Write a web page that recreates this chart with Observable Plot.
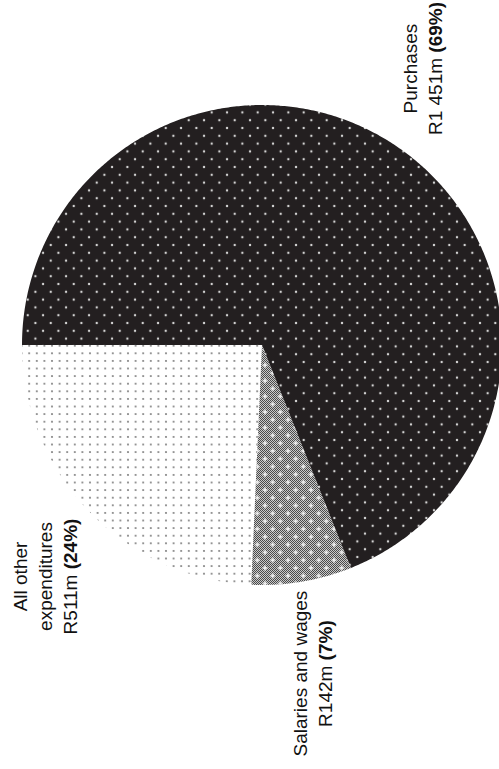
<!DOCTYPE html>
<html>
<head>
<meta charset="utf-8">
<script src="https://cdn.jsdelivr.net/npm/d3@7"></script>
<script src="https://cdn.jsdelivr.net/npm/@observablehq/plot@0.6"></script>
<style>
  html, body { margin: 0; padding: 0; background: #fff; }
  #chart svg { display: block; }
</style>
</head>
<body>
<div id="chart"></div>
<script>
// ---- data ----
const categories = ["All other expenditures", "Salaries and wages", "Purchases"];
const values = [511, 142, 1451];                 // R million
const nameLabels = ["All other\nexpenditures", "Salaries and wages", "Purchases"];
const amountLabels = ["R511m", "R142m", "R1 451m"];
const percentLabels = ["(24%)", "(7%)", "(69%)"];

// ---- layout ----
const W = 499, H = 769;
const CX = 262, CY = 345, R = 240;              // pie centre / radius in px
// label anchors in pie units (radius = 1), centre of each text block
const labelAnchors = [[-0.910, -0.9625], [0.204, -1.367], [0.6625, 1.154]];
const patternIds = ["pat-other", "pat-sal", "pat-pur"];

// ---- wedges via d3.pie, drawn as Plot areas in data space ----
const arcs = d3.pie().sort(null)(values);
const wedgePts = arcs.flatMap((a, i) => {
  const n = Math.max(2, Math.ceil((a.endAngle - a.startAngle) / (Math.PI / 360)));
  return d3.range(n + 1).map(k => {
    const t = Math.PI + a.startAngle + (a.endAngle - a.startAngle) * k / n;
    return {cat: categories[i], x: Math.cos(t), y: Math.sin(t)};
  });
});

const labels = categories.map((c, i) => ({
  cat: c,
  x: labelAnchors[i][0],
  y: labelAnchors[i][1],
  text: `${nameLabels[i]}\n${amountLabels[i]} ${percentLabels[i]}`
}));

const chart = Plot.plot({
  width: W,
  height: H,
  margin: 0,
  x: {domain: [-CX / R, (W - CX) / R], range: [0, W], axis: null},
  y: {domain: [(CY - H) / R, CY / R], range: [H, 0], axis: null},
  color: {domain: categories, range: patternIds.map(id => `url(#${id})`)},
  style: {background: "#fff", fontFamily: "'Liberation Sans', Arial, Helvetica, sans-serif"},
  marks: [
    Plot.area(wedgePts, {x1: "x", y1: "y", x2: 0, y2: 0, z: "cat", fill: "cat"}),
    Plot.area(wedgePts.filter(d => d.cat === categories[1]),
      {x1: "x", y1: "y", x2: 0, y2: 0, fill: "url(#pat-cross)"}),
    Plot.text(labels, {
      x: "x", y: "y", text: "text", rotate: -90,
      fontSize: 19, lineHeight: 25 / 19, textAnchor: "middle", lineAnchor: "middle",
      fill: "#111"
    })
  ]
});

// ---- fill patterns ----
const defs = d3.select(chart).append("defs");
// Purchases: dark with light dots on a diagonal grid
{
  const w = 15.33, h = 15.6;
  const p = defs.append("pattern").attr("id", "pat-pur").attr("patternUnits", "userSpaceOnUse")
    .attr("width", w).attr("height", h).attr("x", 8.58).attr("y", 14.9);
  p.append("rect").attr("width", w).attr("height", h).attr("fill", "#231f20");
  [[w / 4, h / 4], [3 * w / 4, 3 * h / 4]].forEach(([cx, cy]) =>
    p.append("circle").attr("cx", cx).attr("cy", cy).attr("r", 1.2).attr("fill", "#d4d4d4"));
}
// All other: white with grey dots on a square grid
{
  const s = 7.6;
  const p = defs.append("pattern").attr("id", "pat-other").attr("patternUnits", "userSpaceOnUse")
    .attr("width", s).attr("height", s).attr("x", 2.6).attr("y", 7.5);
  p.append("rect").attr("width", s).attr("height", s).attr("fill", "#fff");
  p.append("circle").attr("cx", s / 2).attr("cy", s / 2).attr("r", 1.05).attr("fill", "#7a7a7a");
}
// Salaries: fine checkerboard grey
{
  const p = defs.append("pattern").attr("id", "pat-sal").attr("patternUnits", "userSpaceOnUse")
    .attr("width", 2).attr("height", 2);
  p.append("rect").attr("width", 2).attr("height", 2).attr("fill", "#c9c9c9");
  p.append("rect").attr("x", 0).attr("y", 0).attr("width", 1).attr("height", 1).attr("fill", "#4a4a4a");
  p.append("rect").attr("x", 1).attr("y", 1).attr("width", 1).attr("height", 1).attr("fill", "#4a4a4a");
}
// Salaries overlay: white crosses on a diagonal grid
{
  const w = 15.33, h = 15.6;
  const p = defs.append("pattern").attr("id", "pat-cross").attr("patternUnits", "userSpaceOnUse")
    .attr("width", w).attr("height", h).attr("x", 0.56).attr("y", 2.5);
  [[w / 4, h / 4], [3 * w / 4, 3 * h / 4]].forEach(([cx, cy]) => {
    p.append("rect").attr("x", cx - 2.5).attr("y", cy - 0.6).attr("width", 5).attr("height", 1.2).attr("fill", "#fff");
    p.append("rect").attr("x", cx - 0.6).attr("y", cy - 2.5).attr("width", 1.2).attr("height", 5).attr("fill", "#fff");
  });
}

// ---- bold percentages inside the label lines ----
const ns = "http://www.w3.org/2000/svg";
chart.querySelectorAll("text tspan").forEach(ts => {
  const m = ts.textContent.match(/^(.*?)(\(\d+%\))$/);
  if (m) {
    ts.textContent = m[1];
    const b = document.createElementNS(ns, "tspan");
    b.setAttribute("font-weight", "bold");
    b.textContent = m[2];
    ts.appendChild(b);
  }
});

document.getElementById("chart").appendChild(chart);
</script>
</body>
</html>
